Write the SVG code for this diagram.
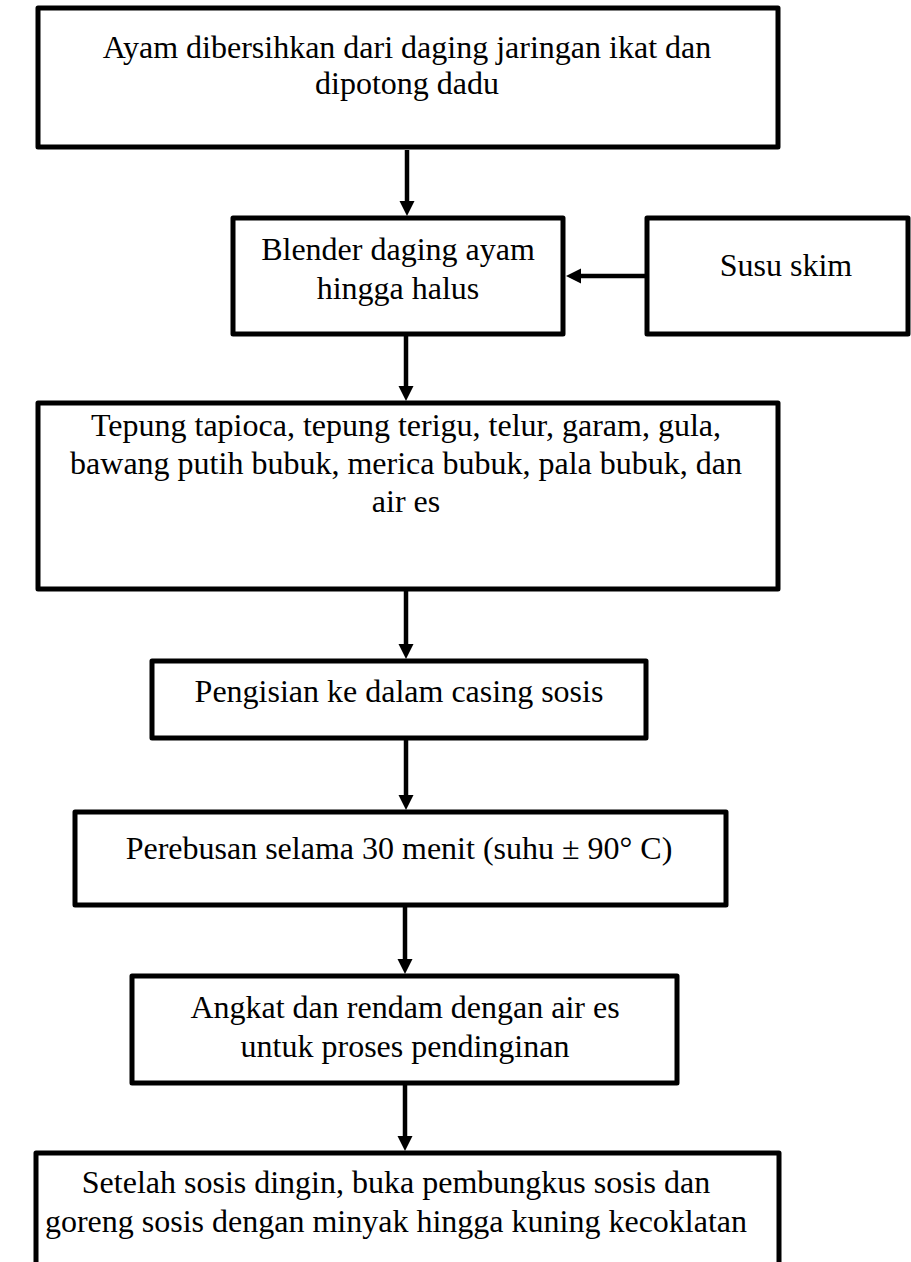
<svg xmlns="http://www.w3.org/2000/svg" width="911" height="1262" viewBox="0 0 911 1262">
<style>
.box{fill:#fff;stroke:#000;stroke-width:5;stroke-linejoin:round}
.t{font-family:"Liberation Serif","Times New Roman",serif;font-size:32px;fill:#000;text-anchor:middle}
.c{stroke:#000;stroke-width:4.5;fill:none;marker-end:url(#ah)}
</style>
<defs>
<marker id="ah" markerUnits="userSpaceOnUse" markerWidth="16" markerHeight="16" refX="5" refY="7.5" orient="auto">
<path d="M0,0 L15,7.5 L0,15 z" fill="#000"/>
</marker>
</defs>
<rect width="911" height="1262" fill="#fff"/>
<g id="connectors">
<line class="c" x1="407" y1="150" x2="407" y2="206"/>
<line class="c" x1="645" y1="276" x2="576" y2="276"/>
<line class="c" x1="406" y1="336" x2="406" y2="391"/>
<line class="c" x1="406" y1="591" x2="406" y2="649"/>
<line class="c" x1="406" y1="740" x2="406" y2="800"/>
<line class="c" x1="405" y1="907" x2="405" y2="964"/>
<line class="c" x1="405" y1="1085" x2="405" y2="1141"/>
</g>
<g id="n1">
<rect class="box" x="38" y="8" width="740" height="139"/>
<text class="t" x="407" y="58">Ayam dibersihkan dari daging jaringan ikat dan</text>
<text class="t" x="407" y="94">dipotong dadu</text>
</g>
<g id="n2">
<rect class="box" x="233" y="218" width="330" height="116"/>
<text class="t" x="398" y="260">Blender daging ayam</text>
<text class="t" x="398" y="299">hingga halus</text>
</g>
<g id="n3">
<rect class="box" x="647" y="218" width="261" height="116"/>
<text class="t" x="786" y="276">Susu skim</text>
</g>
<g id="n4">
<rect class="box" x="38" y="403" width="740" height="186"/>
<text class="t" x="406" y="436">Tepung tapioca, tepung terigu, telur, garam, gula,</text>
<text class="t" x="406" y="474">bawang putih bubuk, merica bubuk, pala bubuk, dan</text>
<text class="t" x="406" y="512">air es</text>
</g>
<g id="n5">
<rect class="box" x="152" y="661" width="494" height="77"/>
<text class="t" x="399" y="702">Pengisian ke dalam casing sosis</text>
</g>
<g id="n6">
<rect class="box" x="75" y="812" width="651" height="93"/>
<text class="t" x="399" y="859">Perebusan selama 30 menit (suhu ± 90° C)</text>
</g>
<g id="n7">
<rect class="box" x="132" y="976" width="545" height="107"/>
<text class="t" x="405" y="1018">Angkat dan rendam dengan air es</text>
<text class="t" x="405" y="1057">untuk proses pendinginan</text>
</g>
<g id="n8">
<rect class="box" x="36" y="1153" width="743" height="130"/>
<text class="t" x="396" y="1193">Setelah sosis dingin, buka pembungkus sosis dan</text>
<text class="t" x="396" y="1232">goreng sosis dengan minyak hingga kuning kecoklatan</text>
</g>
</svg>
